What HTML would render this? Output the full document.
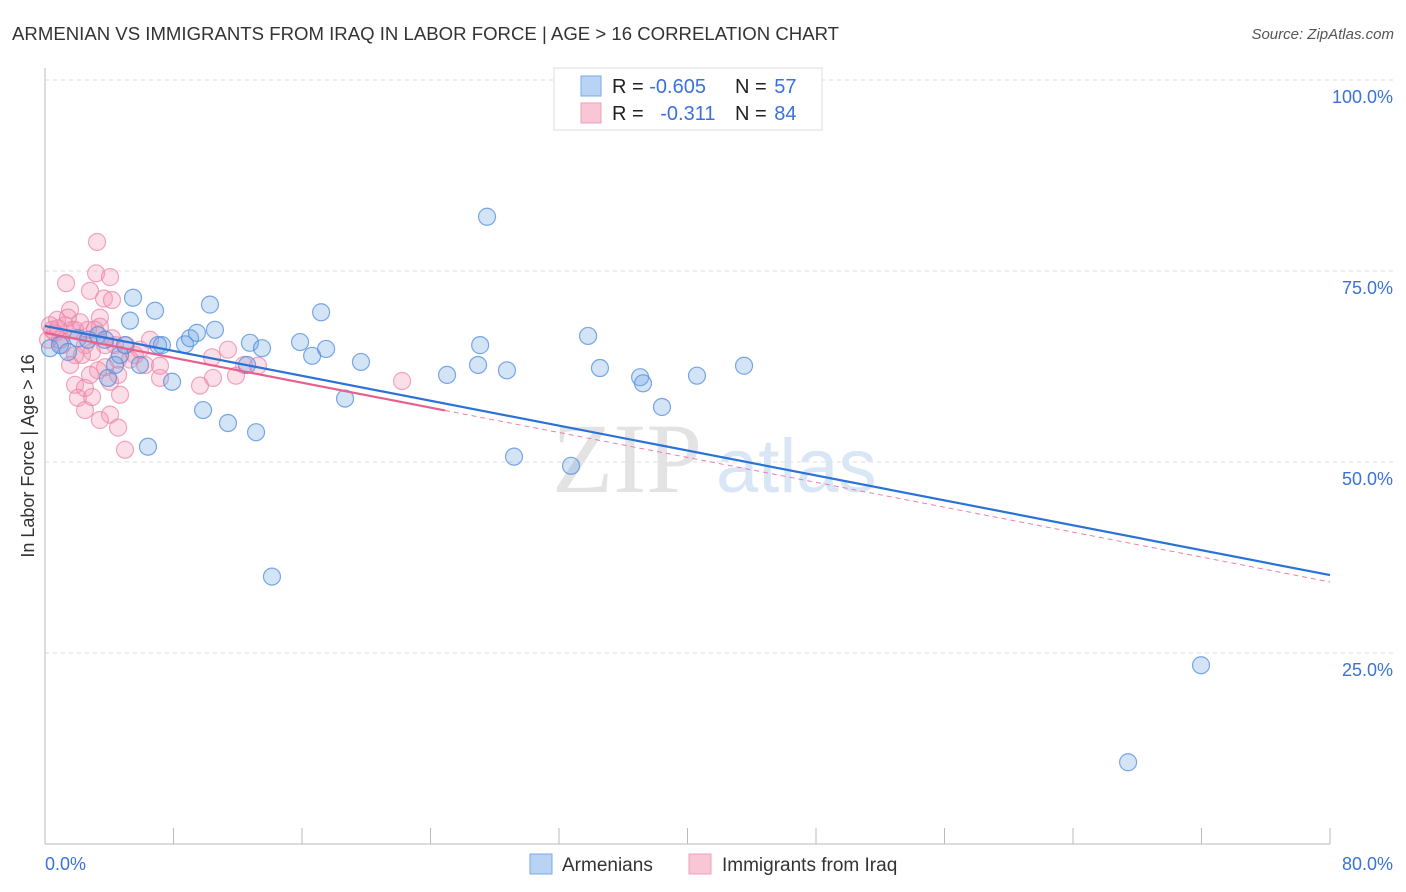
<!DOCTYPE html>
<html><head><meta charset="utf-8"><style>
body{margin:0;background:#fff;font-family:"Liberation Sans",sans-serif;}
svg{display:block}
</style></head><body>
<svg width="1406" height="892" xmlns="http://www.w3.org/2000/svg">
<text x="12" y="40" font-size="18.6" fill="#333">ARMENIAN VS IMMIGRANTS FROM IRAQ IN LABOR FORCE | AGE &gt; 16 CORRELATION CHART</text>
<text x="1394" y="39" font-size="15" fill="#555" font-style="italic" text-anchor="end">Source: ZipAtlas.com</text>
<g id="grid"></g>
<g id="axes"></g>
<text x="552" y="492" font-size="100" fill="#e3e3e3" font-family="Liberation Serif">ZIP</text>
<text x="716" y="492" font-size="76" fill="#d8e6f5">atlas</text>
<g id="pts"></g>
<g id="lines"></g>
<text transform="translate(34,456) rotate(-90)" font-size="18" fill="#333" text-anchor="middle">In Labor Force | Age &gt; 16</text>
<text x="45" y="870" font-size="18" fill="#3a72d8">0.0%</text>
<text x="1393" y="870" font-size="18" fill="#3a72d8" text-anchor="end">80.0%</text>
<g>
<rect x="554" y="68" width="268" height="62" fill="#fff" stroke="#ddd"/>
<rect x="581" y="76" width="20" height="20" fill="#b9d3f5" stroke="#7aa8e6"/>
<rect x="581" y="103" width="20" height="20" fill="#f9c6d6" stroke="#f0a0b8"/>
<text x="612" y="93" font-size="20" fill="#222">R = <tspan fill="#3a72d8">-0.605</tspan></text>
<text x="735" y="93" font-size="20" fill="#222">N = <tspan fill="#3a72d8" dx="2">57</tspan></text>
<text x="612" y="120" font-size="20" fill="#222">R = <tspan fill="#3a72d8" dx="11">-0.311</tspan></text>
<text x="735" y="120" font-size="20" fill="#222">N = <tspan fill="#3a72d8" dx="2">84</tspan></text>
</g>
<g>
<rect x="530" y="854" width="22" height="20" fill="#b9d3f5" stroke="#7aa8e6"/>
<text x="562" y="871" font-size="19" fill="#333">Armenians</text>
<rect x="689" y="854" width="22" height="20" fill="#f9c6d6" stroke="#f0a0b8"/>
<text x="722" y="871" font-size="19" fill="#333">Immigrants from Iraq</text>
</g>
</svg>
<script>
const yTicks=[25,50,75,100];
const yTickLabels=["25.0%","50.0%","75.0%","100.0%"];
const xTicks=[0,8,16,24,32,40,48,56,64,72,80];
const blueX=[0.31,0.93,1.43,2.05,2.68,3.30,3.74,3.92,4.36,4.67,4.98,5.29,5.48,5.91,6.41,6.85,7.04,7.28,7.91,8.72,9.03,9.46,9.84,10.27,10.58,11.39,12.58,12.76,13.14,13.51,14.13,15.88,16.63,17.19,17.50,18.68,19.67,25.03,26.96,27.09,27.52,28.76,29.20,32.75,33.81,34.55,37.05,37.23,38.41,40.59,43.52,67.43,71.97];
const blueY=[64.9,65.3,64.4,66.2,66.0,66.6,66.0,61.0,62.7,64.0,65.3,68.5,71.5,62.7,52.0,69.8,65.3,65.3,60.5,65.4,66.2,66.9,56.8,70.6,67.3,55.1,62.7,65.6,53.9,64.9,35.0,65.7,63.9,69.6,64.8,58.3,63.1,61.4,62.7,65.3,82.1,62.0,50.7,49.5,66.5,62.3,61.1,60.3,57.2,61.3,62.6,10.7,23.4];
const pinkX=[3.24,1.31,3.18,4.05,2.80,3.67,1.56,4.17,0.75,1.25,1.68,0.31,0.62,0.93,2.18,2.68,3.42,3.42,2.49,2.93,1.87,1.56,4.17,4.36,4.55,3.74,3.30,4.05,1.87,2.49,2.05,2.93,4.67,2.49,4.05,3.42,4.55,4.98,5.04,5.60,6.23,6.54,7.16,7.16,10.40,10.46,11.39,11.89,12.39,13.26,9.65,22.23,0.19,0.44,1.06,1.87,1.43,0.81,2.30,2.80,5.29,5.91,3.74,3.11,4.55];
const pinkY=[78.8,73.4,74.7,74.2,72.4,71.4,69.9,71.2,68.6,67.9,67.3,67.9,66.9,66.0,68.3,67.3,68.9,67.7,65.3,64.4,64.0,62.7,66.2,65.3,63.4,62.4,62.0,60.5,60.1,59.7,58.4,58.5,58.8,56.8,56.2,55.5,54.5,51.6,65.3,64.0,62.7,66.0,61.0,62.6,63.7,61.0,64.7,61.3,62.7,62.6,60.0,60.6,66.0,67.3,65.3,67.3,68.9,67.5,64.0,61.4,63.4,64.7,65.3,67.3,61.4];
const blueTrend=[67.8,35.2];
const pinkTrend=[66.9,34.3];
const pinkSolidEnd=24.9;
const NS="http://www.w3.org/2000/svg";
const X=v=>45+v/80*1285, Y=v=>844-v/100*764;
function mk(t,a,p){const e=document.createElementNS(NS,t);for(const k in a)e.setAttribute(k,a[k]);p.appendChild(e);return e;}
const grid=document.getElementById('grid'),axes=document.getElementById('axes');
yTicks.forEach((t,i)=>{
 const l=mk('line',{x1:45,x2:1393,y1:Y(t),y2:Y(t),stroke:'#ddd','stroke-dasharray':'4,4'},grid);
 
 
 const tx=mk('text',{x:1393,y:Y(t)+23,'font-size':18,fill:'#3a72d8','text-anchor':'end'},axes);
 tx.textContent=yTickLabels[i];
 
 
});
const ya=mk('line',{x1:45,x2:45,y1:68,y2:844,stroke:'#bbb'},axes);


const xa=mk('line',{x1:45,x2:1330,y1:844,y2:844,stroke:'#bbb'},axes);


xTicks.forEach(t=>{const l=mk('line',{x1:X(t),x2:X(t),y1:828,y2:844,stroke:'#bbb'},axes);
 
 });
const pts=document.getElementById('pts');
pinkX.forEach((x,i)=>{const c=mk('circle',{cx:X(x),cy:Y(pinkY[i]),r:8.5,fill:'rgba(243,150,180,0.3)',stroke:'rgba(236,130,165,0.7)','stroke-width':1.2},pts);
 
 });
blueX.forEach((x,i)=>{const c=mk('circle',{cx:X(x),cy:Y(blueY[i]),r:8.5,fill:'rgba(110,165,230,0.3)',stroke:'rgba(80,140,220,0.75)','stroke-width':1.2},pts);
 
 });
const lines=document.getElementById('lines');
const pAt=x=>pinkTrend[0]+(pinkTrend[1]-pinkTrend[0])*x/80;
const pd=mk('line',{x1:X(pinkSolidEnd),y1:Y(pAt(pinkSolidEnd)),x2:X(80),y2:Y(pinkTrend[1]),stroke:'#ee7fa5','stroke-width':1,'stroke-dasharray':'5,4'},lines);


const bl=mk('line',{x1:X(0),y1:Y(blueTrend[0]),x2:X(80),y2:Y(blueTrend[1]),stroke:'#2a72d8','stroke-width':2.2},lines);


const pl=mk('line',{x1:X(0),y1:Y(pinkTrend[0]),x2:X(pinkSolidEnd),y2:Y(pAt(pinkSolidEnd)),stroke:'#e8608d','stroke-width':2.2},lines);


</script>
</body></html>
